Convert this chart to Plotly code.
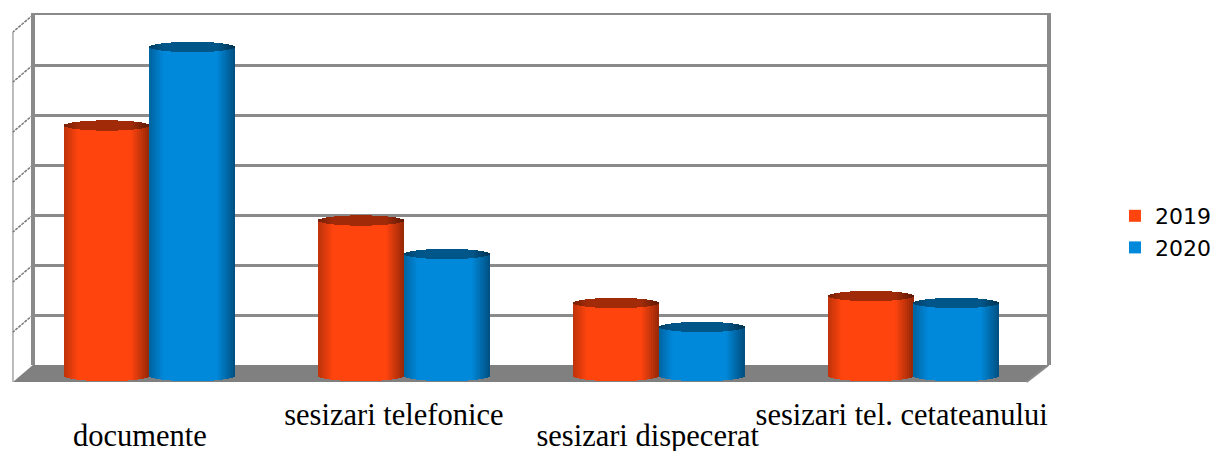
import plotly.graph_objects as go

categories = ["documente", "sesizari telefonice", "sesizari dispecerat", "sesizari tel. cetateanului"]
values_2019 = [501, 311, 146, 160]
values_2020 = [658, 244, 98, 146]
wall_ticks = [0, 100, 200, 300, 400, 500, 600, 700]

W, H = 1216, 451
px_x = lambda p: p / W
px_y = lambda p: (H - p) / H
GREY = "#8a8a8a"
BAR_PX = 86            # width of one cylinder
STEP_PX = 2            # width of one shading strip
CAT_PX = 255.5         # width of one category
UNIT_PER_PX = 2.0
CAP_PX = 5.2           # half height of the elliptical ends


def shade(rgb, f):
    return "rgb(%d,%d,%d)" % tuple(min(255, round(c * f)) for c in rgb)


def factor(t, cap=False):
    left = 0.74 + 0.26 * min(1, (t + 1) / 0.32)
    right = 0.58 + 0.42 * min(1, (1 - t) / 0.42)
    f = min(left, right)
    return f * 0.63 if cap else f


def cylinder(name, vals, rgb, side):
    n = int(BAR_PX / STEP_PX)
    # centre strip first so that the legend swatch takes the pure series colour
    order = sorted(range(n), key=lambda k: abs(k - n // 2))
    bx, by, bbase, boff, bcol = [], [], [], [], []
    cx, cy, cbase, coff, ccol = [], [], [], [], []
    for cat, v in zip(categories, vals):
        for k in order:
            t = (k + 0.5) / n * 2 - 1
            e = CAP_PX * UNIT_PER_PX * (1 - t * t) ** 0.5
            off = (k * STEP_PX - (BAR_PX if side < 0 else 0)) / CAT_PX
            bx.append(cat); by.append(v + e); bbase.append(-e); boff.append(off)
            bcol.append(shade(rgb, factor(t)))
            cx.append(cat); cy.append(2 * e); cbase.append(v - e); coff.append(off)
            ccol.append(shade(rgb, factor(t, True)))
    w = (STEP_PX + 0.4) / CAT_PX
    common = dict(xaxis="x2", yaxis="y2", width=w, hoverinfo="skip", orientation="v")
    return [
        go.Bar(name=name, x=bx, y=by, base=bbase, offset=boff,
               marker=dict(color=bcol, line=dict(width=0)), showlegend=True, **common),
        go.Bar(name=name + " cap", x=cx, y=cy, base=cbase, offset=coff,
               marker=dict(color=ccol, line=dict(width=0)), showlegend=False, **common),
    ]


traces = [go.Scatter(x=[0, 1], y=[0, 700], mode="none", xaxis="x", yaxis="y",
                     showlegend=False, hoverinfo="skip")]
traces += cylinder("2019", values_2019, (255, 68, 14), -1)
traces += cylinder("2020", values_2020, (0, 136, 218), 1)
for ax in ("x3", "x4"):
    traces.append(go.Scatter(x=categories, y=[None] * 4, mode="none", xaxis=ax, yaxis="y2",
                             showlegend=False, hoverinfo="skip"))

FL, BL, BR, FR = 13, 33, 1052, 1030   # front-left, back-left, back-right, front-right
TOP, BACK, FRONT = 15, 365, 382

shapes = [dict(type="path", xref="paper", yref="paper", layer="below", line=dict(width=0),
               fillcolor="#808080",
               path="M%f,%f L%f,%f L%f,%f L%f,%f Z" % (px_x(BL), px_y(BACK), px_x(BR), px_y(BACK),
                                                        px_x(FR), px_y(FRONT), px_x(FL), px_y(FRONT))),
          dict(type="line", xref="paper", yref="paper", layer="below",
               x0=px_x(FL), x1=px_x(FL), y0=px_y(TOP + 17), y1=px_y(FRONT),
               line=dict(color="#a6a6a6", width=1.5)),
          dict(type="line", xref="paper", yref="paper", layer="below",
               x0=px_x(BR), x1=px_x(FR), y0=px_y(BACK), y1=px_y(FRONT),
               line=dict(color="#8a8a8a", width=2))]
for tv in wall_ticks:
    shapes.append(dict(type="line", xref="paper", yref="y", layer="below",
                       x0=px_x(BL), x1=px_x(FL), y0=tv, y1=tv - 17 * UNIT_PER_PX,
                       line=dict(color="#777777", width=1.5, dash="3px,1px")))

label_font = dict(family="Liberation Serif", size=30.5, color="#000000")


def label_axis(vals, pos):
    return dict(domain=[px_x(FL), px_x(FR + 2)], anchor="free", position=px_y(pos),
                type="category", categoryorder="array", categoryarray=categories,
                range=[-0.5, 3.5], tickmode="array", tickvals=vals, ticktext=vals,
                showgrid=False, showline=False, ticks="", zeroline=False,
                tickfont=label_font, tickangle=0, automargin=False)


BARS_L = 149.5 - CAT_PX / 2

fig = go.Figure(traces)
fig.update_layout(
    width=W, height=H, autosize=False,
    margin=dict(l=0, r=0, t=0, b=0),
    paper_bgcolor="white", plot_bgcolor="rgba(0,0,0,0)",
    barmode="overlay", bargap=0, shapes=shapes,
    showlegend=True,
    legend=dict(x=px_x(1119), xanchor="left", y=px_y(232), yanchor="middle",
                font=dict(family="DejaVu Sans", size=22, color="#000000"),
                bgcolor="rgba(0,0,0,0)", itemclick=False, itemdoubleclick=False,
                itemwidth=30, tracegroupgap=0),
    # back wall
    xaxis=dict(domain=[px_x(BL + 2), px_x(BR - 2)], anchor="y", side="top", range=[0, 1],
               showticklabels=False, ticks="", showgrid=False, zeroline=False,
               showline=True, linecolor=GREY, linewidth=2),
    yaxis=dict(domain=[px_y(BACK), px_y(TOP)], anchor="x", range=[0, 700],
               tickmode="array", tickvals=wall_ticks, ticktext=[""] * len(wall_ticks),
               showgrid=True, gridcolor=GREY, gridwidth=3, zeroline=False,
               showline=True, linecolor=GREY, linewidth=4, mirror=True, ticks=""),
    # cylinders stand half-way along the floor depth
    xaxis2=dict(domain=[px_x(BARS_L), px_x(BARS_L + 4 * CAT_PX)], anchor="y2",
                type="category", categoryorder="array", categoryarray=categories, range=[-0.5, 3.5],
                visible=False, showgrid=False),
    yaxis2=dict(domain=[px_y(386), px_y(26)], anchor="x2", range=[-20, 700],
                visible=False, showgrid=False, zeroline=False),
    xaxis3=label_axis(categories[0::2], 414),
    xaxis4=label_axis(categories[1::2], 393),
)
fig.write_html("out.html", config={"displayModeBar": False},
               post_script="document.body.style.margin='0';")
